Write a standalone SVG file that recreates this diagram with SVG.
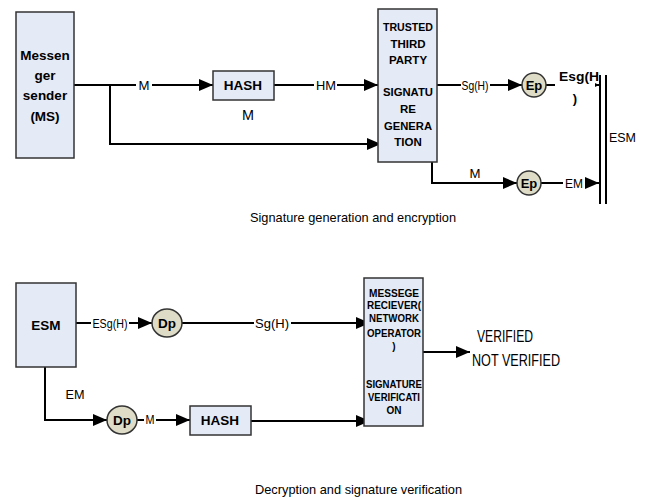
<svg xmlns="http://www.w3.org/2000/svg" width="645" height="500" viewBox="0 0 645 500">
<defs>
<marker id="ah" markerUnits="userSpaceOnUse" markerWidth="16" markerHeight="14" refX="14" refY="6" orient="auto">
<path d="M0,0 L14,6 L0,12 z" fill="#000"/>
</marker>
<marker id="ahs" markerUnits="userSpaceOnUse" markerWidth="8" markerHeight="8" refX="5" refY="2.5" orient="auto">
<path d="M0,0 L5,2.5 L0,5 z" fill="#000"/>
</marker>
<style>
.box{fill:#e4eaf6;stroke:#333;stroke-width:1.5}
.cir{fill:#dedcc6;stroke:#333;stroke-width:1.5}
.ln{fill:none;stroke:#000;stroke-width:2}
.t{font-family:"Liberation Sans",Arial,sans-serif;fill:#000}
.b{font-weight:bold}
.c{text-anchor:middle}
.bg{fill:#fff}
</style>
</defs>
<rect width="645" height="500" fill="#fff"/>

<g id="connectors">
<path class="ln" d="M74,85 H213" marker-end="url(#ah)"/>
<path class="ln" d="M110,85 V144 H381" marker-end="url(#ah)"/>
<path class="ln" d="M274,85 H378" marker-end="url(#ah)"/>
<path class="ln" d="M437,85 H522" marker-end="url(#ah)"/>
<path class="ln" d="M546,85 H599" marker-end="url(#ahs)"/>
<path class="ln" d="M432,162 V183 H517" marker-end="url(#ah)"/>
<path class="ln" d="M541,183 H599" marker-end="url(#ah)"/>
<path class="ln" d="M600,75 V204 M606,75 V204"/>
<path class="ln" d="M76,323 H152" marker-end="url(#ah)"/>
<path class="ln" d="M182,323 H370" marker-end="url(#ah)"/>
<path class="ln" d="M45,367 V420 H107" marker-end="url(#ah)"/>
<path class="ln" d="M137,420 H190" marker-end="url(#ah)"/>
<path class="ln" d="M251,421 H370" marker-end="url(#ah)"/>
<path class="ln" d="M423,352 H470" marker-end="url(#ah)"/>
<rect class="bg" x="136" y="77" width="16" height="15"/>
<rect class="bg" x="314" y="77" width="23" height="15"/>
<rect class="bg" x="461" y="77" width="29" height="16"/>
<rect class="bg" x="555" y="68" width="40" height="38"/>
<rect class="bg" x="563" y="175" width="22" height="15"/>
<rect class="bg" x="91" y="315" width="38" height="16"/>
<rect class="bg" x="254" y="315" width="37" height="16"/>
<rect class="bg" x="144" y="412" width="12" height="15"/>
<text class="t c" x="144" y="90" font-size="13" textLength="11" lengthAdjust="spacingAndGlyphs">M</text>
<text class="t c" x="326" y="90" font-size="13" textLength="20" lengthAdjust="spacingAndGlyphs">HM</text>
<text class="t c" x="475" y="90" font-size="13" textLength="27" lengthAdjust="spacingAndGlyphs">Sg(H)</text>
<text class="t b" x="559" y="81" font-size="13" textLength="40" lengthAdjust="spacingAndGlyphs">Esg(H</text>
<text class="t b c" x="575" y="103" font-size="13">)</text>
<text class="t c" x="475" y="178" font-size="13" textLength="11" lengthAdjust="spacingAndGlyphs">M</text>
<text class="t c" x="574" y="188" font-size="13" textLength="18" lengthAdjust="spacingAndGlyphs">EM</text>
<text class="t" x="609" y="142" font-size="13" textLength="27" lengthAdjust="spacingAndGlyphs">ESM</text>
<text class="t c" x="110" y="328" font-size="13" textLength="35" lengthAdjust="spacingAndGlyphs">ESg(H)</text>
<text class="t c" x="272" y="328" font-size="13" textLength="34" lengthAdjust="spacingAndGlyphs">Sg(H)</text>
<text class="t c" x="75" y="399" font-size="13" textLength="19" lengthAdjust="spacingAndGlyphs">EM</text>
<text class="t c" x="150" y="424" font-size="12" textLength="9" lengthAdjust="spacingAndGlyphs">M</text>
<text class="t c" x="248" y="120" font-size="14" textLength="12" lengthAdjust="spacingAndGlyphs">M</text>
</g>

<g id="ms">
<rect class="box" x="16" y="12" width="58" height="146"/>
<text class="t b c" x="45" y="60" font-size="13.5">Messen</text>
<text class="t b c" x="45" y="80" font-size="13.5">ger</text>
<text class="t b c" x="45" y="100" font-size="13.5">sender</text>
<text class="t b c" x="45" y="121" font-size="13.5">(MS)</text>
</g>

<g id="hash1">
<rect class="box" x="213" y="71" width="61" height="29"/>
<text class="t b c" x="243" y="90" font-size="13.5">HASH</text>
</g>

<g id="ttp">
<rect class="box" x="378" y="9" width="59" height="153"/>
<text class="t b c" x="408" y="31" font-size="11.5" textLength="50" lengthAdjust="spacingAndGlyphs">TRUSTED</text>
<text class="t b c" x="408" y="48" font-size="11.5">THIRD</text>
<text class="t b c" x="408" y="64" font-size="11.5">PARTY</text>
<text class="t b c" x="408" y="96" font-size="11.5" textLength="50" lengthAdjust="spacingAndGlyphs">SIGNATU</text>
<text class="t b c" x="408" y="113" font-size="11.5">RE</text>
<text class="t b c" x="408" y="130" font-size="11.5" textLength="48" lengthAdjust="spacingAndGlyphs">GENERA</text>
<text class="t b c" x="408" y="146" font-size="11.5">TION</text>
</g>

<g id="ep1">
<ellipse class="cir" cx="534" cy="85" rx="12" ry="12"/>
<text class="t b c" x="534" y="90" font-size="13">Ep</text>
</g>

<g id="ep2">
<ellipse class="cir" cx="529" cy="183" rx="12" ry="12"/>
<text class="t b c" x="529" y="188" font-size="13">Ep</text>
</g>

<g id="caption1">
<text class="t" x="250" y="222" font-size="13" textLength="206" lengthAdjust="spacingAndGlyphs">Signature generation and encryption</text>
</g>

<g id="esm">
<rect class="box" x="16" y="283" width="60" height="84"/>
<text class="t b c" x="46" y="330" font-size="13.5">ESM</text>
</g>

<g id="dp1">
<ellipse class="cir" cx="167" cy="323" rx="15" ry="14"/>
<text class="t b c" x="167" y="328" font-size="13.5">Dp</text>
</g>

<g id="dp2">
<ellipse class="cir" cx="122" cy="420" rx="15" ry="14"/>
<text class="t b c" x="122" y="425" font-size="13.5">Dp</text>
</g>

<g id="hash2">
<rect class="box" x="190" y="406" width="61" height="29"/>
<text class="t b c" x="220" y="425" font-size="13.5">HASH</text>
</g>

<g id="mr">
<rect class="box" x="364" y="278" width="59" height="148"/>
<text class="t b c" x="394" y="297" font-size="10" textLength="50" lengthAdjust="spacingAndGlyphs">MESSEGE</text>
<text class="t b c" x="394" y="309" font-size="10" textLength="54" lengthAdjust="spacingAndGlyphs">RECIEVER(</text>
<text class="t b c" x="394" y="322" font-size="10" textLength="50" lengthAdjust="spacingAndGlyphs">NETWORK</text>
<text class="t b c" x="394" y="337" font-size="10" textLength="54" lengthAdjust="spacingAndGlyphs">OPERATOR</text>
<text class="t b c" x="394" y="350" font-size="10">)</text>
<text class="t b c" x="394" y="388" font-size="10" textLength="56" lengthAdjust="spacingAndGlyphs">SIGNATURE</text>
<text class="t b c" x="394" y="401" font-size="10" textLength="52" lengthAdjust="spacingAndGlyphs">VERIFICATI</text>
<text class="t b c" x="394" y="414" font-size="10">ON</text>
</g>

<g id="result">
<text class="t" x="477" y="342" font-size="16" textLength="56" lengthAdjust="spacingAndGlyphs">VERIFIED</text>
<text class="t" x="472" y="366" font-size="16" textLength="88" lengthAdjust="spacingAndGlyphs">NOT VERIFIED</text>
</g>

<g id="caption2">
<text class="t" x="255" y="494" font-size="13" textLength="207" lengthAdjust="spacingAndGlyphs">Decryption and signature verification</text>
</g>
</svg>
